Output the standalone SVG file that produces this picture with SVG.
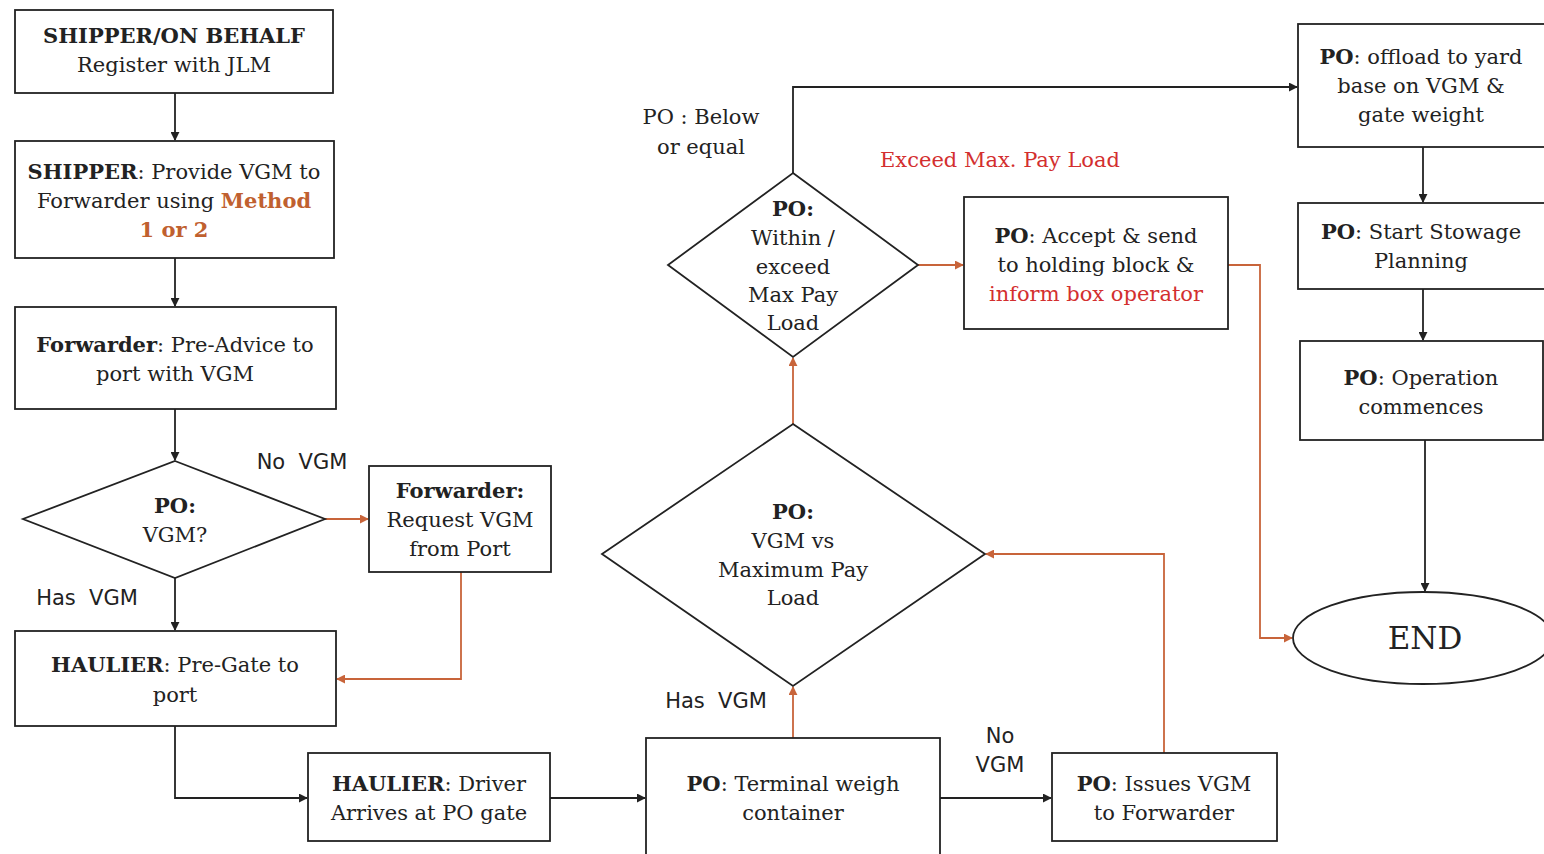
<svg xmlns="http://www.w3.org/2000/svg" width="1544" height="854" viewBox="0 0 1544 854">
<style>
.box{fill:#fff;stroke:#222;stroke-width:1.8}
.t{font-family:"DejaVu Serif","Liberation Serif",serif;font-size:21px;fill:#222;text-anchor:middle}
.b{font-weight:bold}
.lbl{font-family:"DejaVu Sans","Liberation Sans",sans-serif;font-size:21px;fill:#222;text-anchor:middle;white-space:pre}
.or{fill:#C0602F}
.red{fill:#D32F2F}
.k{fill:none;stroke:#222;stroke-width:1.8}
.o{fill:none;stroke:#C8643A;stroke-width:1.8}
</style>
<defs>
<marker id="ak" viewBox="0 0 10 10" refX="9" refY="5" markerWidth="9" markerHeight="9" markerUnits="userSpaceOnUse" orient="auto"><path d="M0,0L10,5L0,10z" fill="#222"/></marker>
<marker id="ao" viewBox="0 0 10 10" refX="9" refY="5" markerWidth="9" markerHeight="9" markerUnits="userSpaceOnUse" orient="auto"><path d="M0,0L10,5L0,10z" fill="#C8643A"/></marker>
</defs>
<rect width="1544" height="854" fill="#fff"/>
<g id="connectors">
<path class="k" d="M175,93V140" marker-end="url(#ak)"/>
<path class="k" d="M175,258V306" marker-end="url(#ak)"/>
<path class="k" d="M175,409V460" marker-end="url(#ak)"/>
<path class="o" d="M325,519H368" marker-end="url(#ao)"/>
<path class="k" d="M175,578V630" marker-end="url(#ak)"/>
<path class="o" d="M461,572V679H337" marker-end="url(#ao)"/>
<path class="k" d="M175,726V798H307" marker-end="url(#ak)"/>
<path class="k" d="M550,798H645" marker-end="url(#ak)"/>
<path class="k" d="M940,798H1051" marker-end="url(#ak)"/>
<path class="o" d="M1164,753V554H986" marker-end="url(#ao)"/>
<path class="o" d="M793,738V687" marker-end="url(#ao)"/>
<path class="o" d="M793,424V358" marker-end="url(#ao)"/>
<path class="k" d="M793,173V87H1297" marker-end="url(#ak)"/>
<path class="o" d="M918,265H963" marker-end="url(#ao)"/>
<path class="o" d="M1228,265H1260V638H1292" marker-end="url(#ao)"/>
<path class="k" d="M1423,147V202" marker-end="url(#ak)"/>
<path class="k" d="M1423,289V340" marker-end="url(#ak)"/>
<path class="k" d="M1425,440V591" marker-end="url(#ak)"/>
</g>
<g id="labels">
<text class="lbl" x="302" y="469" xml:space="preserve">No  VGM</text>
<text class="lbl" x="87" y="605" xml:space="preserve">Has  VGM</text>
<text class="lbl" x="716" y="708" xml:space="preserve">Has  VGM</text>
<text class="lbl" x="1000" y="743">No</text>
<text class="lbl" x="1000" y="772">VGM</text>
<text class="t" x="701" y="124">PO : Below</text>
<text class="t" x="701" y="154">or equal</text>
<text class="t red" x="1000" y="167">Exceed Max. Pay Load</text>
</g>
<g id="n1"><rect class="box" x="15" y="10" width="318" height="83"/>
<text class="t b" x="174" y="43">SHIPPER/ON BEHALF</text>
<text class="t" x="174" y="72">Register with JLM</text></g>
<g id="n2"><rect class="box" x="15" y="141" width="319" height="117"/>
<text class="t" x="174" y="179"><tspan class="b">SHIPPER</tspan>: Provide VGM to</text>
<text class="t" x="174" y="208">Forwarder using <tspan class="b or">Method</tspan></text>
<text class="t b or" x="174" y="237">1 or 2</text></g>
<g id="n3"><rect class="box" x="15" y="307" width="321" height="102"/>
<text class="t" x="175" y="352"><tspan class="b">Forwarder</tspan>: Pre-Advice to</text>
<text class="t" x="175" y="381">port with VGM</text></g>
<g id="d1"><polygon class="box" points="175,461 325,519 175,578 23,519"/>
<text class="t b" x="175" y="513">PO:</text>
<text class="t" x="175" y="542">VGM?</text></g>
<g id="n4"><rect class="box" x="369" y="466" width="182" height="106"/>
<text class="t b" x="460" y="498">Forwarder:</text>
<text class="t" x="460" y="527">Request VGM</text>
<text class="t" x="460" y="556">from Port</text></g>
<g id="n5"><rect class="box" x="15" y="631" width="321" height="95"/>
<text class="t" x="175" y="672"><tspan class="b">HAULIER</tspan>: Pre-Gate to</text>
<text class="t" x="175" y="702">port</text></g>
<g id="n6"><rect class="box" x="308" y="753" width="242" height="88"/>
<text class="t" x="429" y="791"><tspan class="b">HAULIER</tspan>: Driver</text>
<text class="t" x="429" y="820">Arrives at PO gate</text></g>
<g id="n7"><rect class="box" x="646" y="738" width="294" height="125"/>
<text class="t" x="793" y="791"><tspan class="b">PO</tspan>: Terminal weigh</text>
<text class="t" x="793" y="820">container</text></g>
<g id="n8"><rect class="box" x="1052" y="753" width="225" height="88"/>
<text class="t" x="1164" y="791"><tspan class="b">PO</tspan>: Issues VGM</text>
<text class="t" x="1164" y="820">to Forwarder</text></g>
<g id="d2"><polygon class="box" points="793,424 985,554 793,686 602,554"/>
<text class="t b" x="793" y="519">PO:</text>
<text class="t" x="793" y="548">VGM vs</text>
<text class="t" x="793" y="577">Maximum Pay</text>
<text class="t" x="793" y="605">Load</text></g>
<g id="d3"><polygon class="box" points="793,173 918,265 793,357 668,265"/>
<text class="t b" x="793" y="216">PO:</text>
<text class="t" x="793" y="245">Within /</text>
<text class="t" x="793" y="274">exceed</text>
<text class="t" x="793" y="302">Max Pay</text>
<text class="t" x="793" y="330">Load</text></g>
<g id="n9"><rect class="box" x="964" y="197" width="264" height="132"/>
<text class="t" x="1096" y="243"><tspan class="b">PO</tspan>: Accept &amp; send</text>
<text class="t" x="1096" y="272">to holding block &amp;</text>
<text class="t red" x="1096" y="301">inform box operator</text></g>
<g id="n10"><rect class="box" x="1298" y="24" width="250" height="123"/>
<text class="t" x="1421" y="64"><tspan class="b">PO</tspan>: offload to yard</text>
<text class="t" x="1421" y="93">base on VGM &amp;</text>
<text class="t" x="1421" y="122">gate weight</text></g>
<g id="n11"><rect class="box" x="1298" y="203" width="250" height="86"/>
<text class="t" x="1421" y="239"><tspan class="b">PO</tspan>: Start Stowage</text>
<text class="t" x="1421" y="268">Planning</text></g>
<g id="n12"><rect class="box" x="1300" y="341" width="243" height="99"/>
<text class="t" x="1421" y="385"><tspan class="b">PO</tspan>: Operation</text>
<text class="t" x="1421" y="414">commences</text></g>
<g id="end"><ellipse class="box" cx="1423" cy="638" rx="130" ry="46"/>
<text class="t" x="1425" y="649" style="font-size:31px">END</text></g>
</svg>
